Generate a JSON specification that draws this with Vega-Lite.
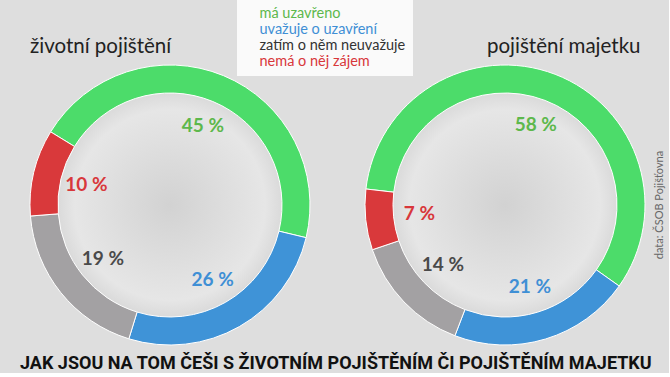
{
  "$schema": "https://vega.github.io/schema/vega-lite/v6.json",
  "background": "#dedede",
  "padding": {"left": 20, "top": 0, "right": 4, "bottom": 0},
  "datasets": {
    "d": [
      {"poj": "zivot", "cat": "má uzavřeno", "value": 45, "k": 1},
      {"poj": "zivot", "cat": "uvažuje o uzavření", "value": 26, "k": 2},
      {"poj": "zivot", "cat": "zatím o něm neuvažuje", "value": 19, "k": 3},
      {"poj": "zivot", "cat": "nemá o něj zájem", "value": 10, "k": 4},
      {"poj": "majetek", "cat": "má uzavřeno", "value": 58, "k": 1},
      {"poj": "majetek", "cat": "uvažuje o uzavření", "value": 21, "k": 2},
      {"poj": "majetek", "cat": "zatím o něm neuvažuje", "value": 14, "k": 3},
      {"poj": "majetek", "cat": "nemá o něj zájem", "value": 7, "k": 4}
    ]
  },
  "title": {
    "text": "JAK JSOU NA TOM ČEŠI S ŽIVOTNÍM POJIŠTĚNÍM ČI POJIŠTĚNÍM MAJETKU",
    "orient": "bottom", "anchor": "start", "dx": -8,
    "font": "Roboto",
    "fontSize": 18, "fontWeight": "bold", "color": "#111111", "offset": 8
  },
  "config": {"view": {"stroke": null}},
  "spacing": 51,
  "resolve": {"scale": {"theta": "independent", "fill": "shared", "color": "shared"}},
  "hconcat": [
    {
      "width": 280, "height": 280,
      "title": {"text": "životní pojištění", "anchor": "start", "dx": 2, "font": "Lato", "fontSize": 20.5, "fontWeight": "normal", "color": "#222222", "offset": 6},
      "data": {"name": "d"},
      "transform": [
        {"filter": "datum.poj == 'zivot'"},
        {"calculate": "datum.value + ' %'", "as": "label"}
      ],
      "layer": [
        {
          "mark": {"type": "arc", "radius": 112, "theta": 0, "theta2": 6.2832,
            "fill": {"gradient": "radial", "x1": 0.5, "y1": 0.5, "r1": 0, "x2": 0.5, "y2": 0.5, "r2": 0.5,
              "stops": [{"offset": 0, "color": "#d2d2d2"}, {"offset": 0.85, "color": "#e6e6e6"}, {"offset": 1, "color": "#dadada"}]}},
          "encoding": {}
        },
        {
          "mark": {"type": "arc", "innerRadius": 112, "radius": 140, "stroke": "#ffffff", "strokeWidth": 1},
          "encoding": {
            "theta": {"field": "value", "type": "quantitative", "stack": true, "scale": {"range": [-1.021, 5.262]}},
            "color": {"field": "cat", "type": "nominal",
              "scale": {"domain": ["má uzavřeno", "uvažuje o uzavření", "zatím o něm neuvažuje", "nemá o něj zájem"],
                        "range": ["#4cdc6a", "#3f93d7", "#a3a1a3", "#d9393b"]},
              "legend": {"title": null, "orient": "none", "legendX": 207, "legendY": -65,
                "symbolSize": 1, "symbolOpacity": 0, "symbolStrokeWidth": 0, "labelOffset": 1,
                "labelFont": "Lato", "labelFontSize": 14.5, "rowPadding": 1, "padding": 7, "labelLimit": 300,
                "fillColor": "rgba(255,255,255,0.85)",
                "labelColor": {"expr": "datum.value == 'má uzavřeno' ? '#5db84c' : datum.value == 'uvažuje o uzavření' ? '#3f8fd5' : datum.value == 'zatím o něm neuvažuje' ? '#333333' : '#d8373b'"}}},
            "order": {"field": "k", "type": "quantitative"}
          }
        },
        {
          "mark": {"type": "text", "radius": 86, "font": "Lato", "fontSize": 19, "fontWeight": "bold"},
          "encoding": {
            "theta": {"field": "value", "type": "quantitative", "stack": true},
            "text": {"field": "label"},
            "fill": {"field": "cat", "type": "nominal", "legend": null,
              "scale": {"domain": ["má uzavřeno", "uvažuje o uzavření", "zatím o něm neuvažuje", "nemá o něj zájem"],
                        "range": ["#5db84c", "#3f8fd5", "#4a4a4a", "#d8373b"]}},
            "order": {"field": "k", "type": "quantitative"}
          }
        }
      ]
    },
    {
      "title": {"text": "pojištění majetku", "anchor": "start", "dx": 124, "font": "Lato", "fontSize": 20.5, "fontWeight": "normal", "color": "#222222", "offset": 6},
      "hconcat": [
        {
          "width": 280, "height": 280,
          "title": {"text": "data: ČSOB Pojišťovna", "orient": "right", "angle": -90, "anchor": "middle", "font": "Lato", "fontSize": 11, "fontWeight": "normal", "color": "#666666", "offset": -4},
          "data": {"name": "d"},
          "transform": [
            {"filter": "datum.poj == 'majetek'"},
            {"calculate": "datum.value + ' %'", "as": "label"}
          ],
          "layer": [
            {
              "mark": {"type": "arc", "radius": 112, "theta": 0, "theta2": 6.2832,
                "fill": {"gradient": "radial", "x1": 0.5, "y1": 0.5, "r1": 0, "x2": 0.5, "y2": 0.5, "r2": 0.5,
                  "stops": [{"offset": 0, "color": "#d2d2d2"}, {"offset": 0.85, "color": "#e6e6e6"}, {"offset": 1, "color": "#dadada"}]}},
              "encoding": {}
            },
            {
              "mark": {"type": "arc", "innerRadius": 112, "radius": 140, "stroke": "#ffffff", "strokeWidth": 1},
              "encoding": {
                "theta": {"field": "value", "type": "quantitative", "stack": true, "scale": {"range": [-1.456, 4.827]}},
                "color": {"field": "cat", "type": "nominal",
                  "scale": {"domain": ["má uzavřeno", "uvažuje o uzavření", "zatím o něm neuvažuje", "nemá o něj zájem"],
                            "range": ["#4cdc6a", "#3f93d7", "#a3a1a3", "#d9393b"]},
                  "legend": {"title": null, "orient": "none", "legendX": 207, "legendY": -65,
                    "symbolSize": 1, "symbolOpacity": 0, "symbolStrokeWidth": 0, "labelOffset": 1,
                    "labelFont": "Lato", "labelFontSize": 14.5, "rowPadding": 1, "padding": 7, "labelLimit": 300,
                    "fillColor": "rgba(255,255,255,0.85)",
                    "labelColor": {"expr": "datum.value == 'má uzavřeno' ? '#5db84c' : datum.value == 'uvažuje o uzavření' ? '#3f8fd5' : datum.value == 'zatím o něm neuvažuje' ? '#333333' : '#d8373b'"}}},
                "order": {"field": "k", "type": "quantitative"}
              }
            },
            {
              "mark": {"type": "text", "radius": 86, "font": "Lato", "fontSize": 19, "fontWeight": "bold"},
              "encoding": {
                "theta": {"field": "value", "type": "quantitative", "stack": true},
                "text": {"field": "label"},
                "fill": {"field": "cat", "type": "nominal", "legend": null,
                  "scale": {"domain": ["má uzavřeno", "uvažuje o uzavření", "zatím o něm neuvažuje", "nemá o něj zájem"],
                            "range": ["#5db84c", "#3f8fd5", "#4a4a4a", "#d8373b"]}},
                "order": {"field": "k", "type": "quantitative"}
              }
            }
          ]
        }
      ]
    }
  ]
}
